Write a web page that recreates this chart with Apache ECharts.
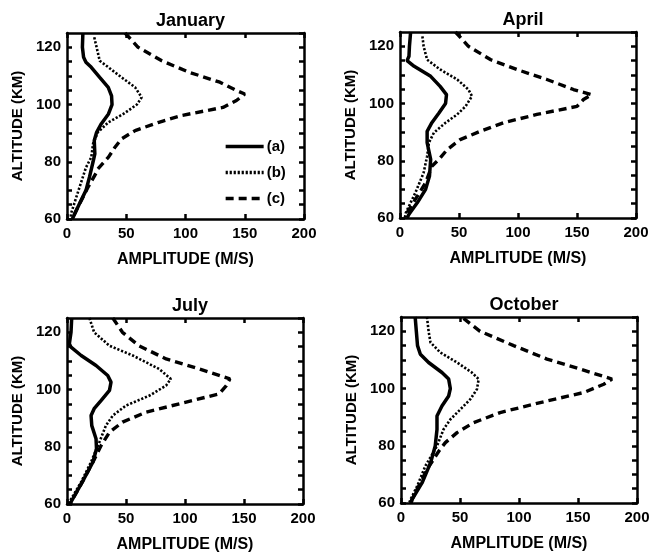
<!DOCTYPE html>
<html><head><meta charset="utf-8">
<script src="https://cdn.jsdelivr.net/npm/echarts@6/dist/echarts.min.js"></script>
<style>html,body{margin:0;padding:0;background:#fff}#c{width:662px;height:556px}</style>
</head><body><div id="c"></div>
<script>
// ---- data (altitude km, amplitude m/s) ----
const panelTitles = ['January', 'April', 'July', 'October'];
const seriesNames = ['(a)', '(b)', '(c)'];
const xTicks = [0, 50, 100, 150, 200];
const yTickLabels = [60, 80, 100, 120];

const janA_alt = [125, 120, 116.5, 114.8, 113, 109.5, 106, 103, 100, 96.7, 93.3, 90.3, 87.4, 82.8, 80, 74.7, 70, 65.3, 60];
const janA_amp = [13.4, 13, 14, 16, 20.5, 27.6, 34.8, 37.6, 38, 35, 29, 25, 23, 23.5, 22, 19, 16, 10.5, 4.5];
const janB_alt = [123.5, 120, 115.3, 113, 109.5, 106, 102.5, 100, 96.7, 93.8, 90.3, 86.3, 81.6, 78, 71, 61.9, 60];
const janB_amp = [23, 25, 27.6, 35, 46, 57.5, 63, 59, 47.5, 35, 26, 22, 20.5, 16, 10.5, 3.4, 3];
const janC_alt = [125, 120, 115.3, 111.3, 107.8, 104.9, 103.7, 101.4, 99, 96.2, 93.8, 90.9, 88, 85.1, 81.6, 77.5, 76.4, 71, 60.7];
const janC_amp = [49, 60, 80, 103, 129, 143, 150, 143, 131.6, 97, 77.5, 57.5, 46, 40.5, 35, 26, 25, 17.6, 5];

const aprA_alt = [125, 120, 116.5, 115, 113, 109.5, 106, 103.1, 100, 96.7, 93.3, 90.3, 86.3, 80.5, 74.7, 70, 65.3, 61.3, 60];
const aprA_amp = [9, 8, 7.6, 6, 12, 26, 34, 39.4, 38.6, 33, 27, 23, 23, 26, 25, 21.7, 14.6, 7.6, 6];
const aprB_alt = [123.5, 120, 115.3, 111.9, 108.4, 104.9, 102.6, 99, 96.2, 93.3, 89.8, 86.3, 81.6, 75.8, 68.8, 61.9, 60];
const aprB_amp = [19, 20, 23, 34, 48.5, 58, 61, 55.5, 48.5, 38.6, 28.7, 24.5, 23, 20, 13, 5, 4];
const aprC_alt = [125, 120, 115.3, 111.9, 108.4, 104.9, 103.1, 101.4, 99, 96.2, 93.3, 90.3, 87.4, 83.9, 80.5, 78.1, 72.3, 61.9, 60];
const aprC_amp = [47, 58, 77, 99, 124.5, 147, 162.5, 155.5, 150, 116, 88, 68, 51, 40, 33, 27, 21.7, 6, 5];

const julA_alt = [125, 120, 116, 114.8, 111.9, 108.4, 104.9, 102.6, 99.7, 96.2, 93.3, 90.9, 87.4, 82.8, 79.3, 74.7, 67.7, 60.7, 60];
const julA_amp = [4, 3.4, 2, 3.4, 12, 24.6, 34.5, 37.3, 36, 29, 23, 20.4, 21, 24.6, 25, 22, 13, 3.4, 3];
const julB_alt = [125, 120, 115.3, 111.9, 107.2, 103.7, 101.4, 97.9, 94.4, 90.9, 87.4, 81.6, 74.7, 67.7, 60.7, 60];
const julB_amp = [19, 23, 36, 55.7, 78, 88, 84, 70, 50, 38.8, 33, 27.4, 20.4, 12, 2, 1.5];
const julC_alt = [125, 120, 115.3, 110.7, 107.2, 103.7, 101.4, 98.5, 95.6, 92.1, 88.6, 85.1, 80.5, 74.7, 67.7, 60.7, 60];
const julC_amp = [38.8, 47, 61, 84, 112, 138, 135, 129, 101, 67, 47, 36, 29, 22, 13, 3.4, 3];

const octA_alt = [125, 120, 115, 112, 109.1, 105.6, 103.3, 100, 97.4, 93.9, 90.4, 85.7, 79.9, 74, 67, 61.2, 60];
const octA_amp = [12, 13, 14, 16.4, 23.4, 34.7, 40.4, 41.8, 40.4, 34.7, 30.5, 30.5, 29, 25, 17.8, 9.3, 8.5];
const octB_alt = [125, 120, 116.1, 112.6, 109.1, 105.6, 103.3, 99.8, 96.3, 92.7, 89.2, 85.7, 79.9, 72.9, 65.8, 61.2, 60];
const octB_amp = [22, 23.4, 25, 33.3, 47.5, 60, 65.8, 64.4, 58.8, 50.3, 41.8, 36, 30.5, 20.6, 13.6, 8, 7];
const octC_alt = [124.5, 120, 115, 110.3, 106.8, 103.3, 101.5, 98.6, 95.1, 91.6, 88.1, 84.6, 81.1, 78.1, 71.7, 61.2, 60];
const octC_amp = [53, 67, 95.5, 123.7, 152, 178.8, 171.8, 154.8, 118, 84, 61.6, 47.5, 37.6, 32, 22, 9.3, 8.5];

const monthData = [
  [[janA_alt, janA_amp], [janB_alt, janB_amp], [janC_alt, janC_amp]],
  [[aprA_alt, aprA_amp], [aprB_alt, aprB_amp], [aprC_alt, aprC_amp]],
  [[julA_alt, julA_amp], [julB_alt, julB_amp], [julC_alt, julC_amp]],
  [[octA_alt, octA_amp], [octB_alt, octB_amp], [octC_alt, octC_amp]]
];

// ---- layout / style ----
const FONT = 'Liberation Sans, Arial, sans-serif';
const grids = [
  {left: 67, top: 33, width: 237, height: 186},
  {left: 400, top: 32, width: 236, height: 186},
  {left: 67, top: 318, width: 236, height: 186},
  {left: 401, top: 317, width: 236, height: 186}
];
const lineStyles = [
  {width: 3.5, type: 'solid'},
  {width: 2.6, type: [2.2, 1.8]},
  {width: 3.4, type: [8, 5]}
];

const chart = echarts.init(document.getElementById('c'), null, {renderer: 'canvas'});
const option = {
  backgroundColor: '#fff',
  animation: false,
  title: [], grid: [], xAxis: [], yAxis: [], series: [],
  legend: {
    show: true, orient: 'vertical', left: 219, top: 134,
    itemWidth: 38, itemHeight: 15, itemGap: 11,
    data: seriesNames,
    itemStyle: {opacity: 0},
    lineStyle: {width: 3.3},
    textStyle: {fontFamily: FONT, fontWeight: 'bold', fontSize: 15, color: '#000', padding: [0, 0, 0, -2]},
    selectedMode: false
  }
};

grids.forEach((g, i) => {
  option.grid.push(Object.assign({show: false, containLabel: false}, g));
  option.title.push({
    text: panelTitles[i], left: g.left + g.width / 2, top: g.top - 26, textAlign: 'center',
    textStyle: {fontFamily: FONT, fontWeight: 'bold', fontSize: 18, color: '#000'}
  });
  const axLine = {show: true, onZero: false, lineStyle: {color: '#000', width: 2.5}};
  const tickIn = {show: true, inside: true, length: 5, lineStyle: {color: '#000', width: 2.5}};
  // bottom x
  option.xAxis.push({
    gridIndex: i, type: 'value', min: 0, max: 200, interval: 50, position: 'bottom',
    axisLine: axLine, axisTick: tickIn, splitLine: {show: false},
    axisLabel: {color: '#000', fontFamily: FONT, fontWeight: 'bold', fontSize: 15, margin: 7,
      formatter: v => xTicks.includes(v) ? String(v) : ''},
    name: 'AMPLITUDE (M/S)', nameLocation: 'middle', nameGap: 33,
    nameTextStyle: {color: '#000', fontFamily: FONT, fontWeight: 'bold', fontSize: 16}
  });
  // top x (frame + ticks)
  option.xAxis.push({
    gridIndex: i, type: 'value', min: 0, max: 200, interval: 50, position: 'top',
    axisLine: axLine, axisTick: tickIn, splitLine: {show: false}, axisLabel: {show: false}
  });
  // left y
  option.yAxis.push({
    gridIndex: i, type: 'value', min: 60, max: 125, interval: 5, position: 'left',
    axisLine: axLine, axisTick: tickIn, splitLine: {show: false},
    axisLabel: {color: '#000', fontFamily: FONT, fontWeight: 'bold', fontSize: 15, margin: 6,
      showMaxLabel: false,
      formatter: v => yTickLabels.includes(v) ? String(v) : ''},
    name: 'ALTITUDE (KM)', nameLocation: 'middle', nameGap: 42, nameRotate: 90,
    nameTextStyle: {color: '#000', fontFamily: FONT, fontWeight: 'bold', fontSize: 15}
  });
  // right y
  option.yAxis.push({
    gridIndex: i, type: 'value', min: 60, max: 125, interval: 5, position: 'right',
    axisLine: axLine, axisTick: tickIn, splitLine: {show: false}, axisLabel: {show: false}
  });
  monthData[i].forEach((pair, k) => {
    const [alt, amp] = pair;
    option.series.push({
      name: seriesNames[k], type: 'line', xAxisIndex: 2 * i, yAxisIndex: 2 * i,
      data: alt.map((a, j) => [amp[j], a]),
      symbol: 'none', smooth: false, clip: true,
      lineStyle: {color: '#000', width: lineStyles[k].width, type: lineStyles[k].type},
      itemStyle: {color: '#000'},
      z: 3 - k
    });
  });
});

chart.setOption(option);
</script>
</body></html>
